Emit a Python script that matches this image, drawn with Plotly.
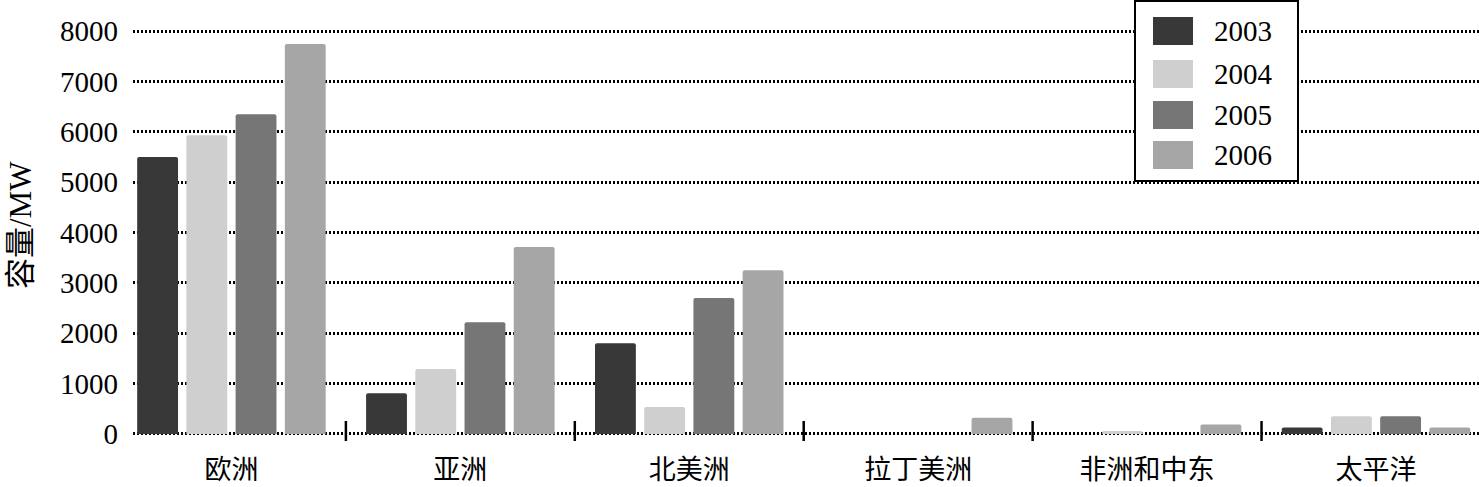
import plotly.graph_objects as go

regions = ["欧洲", "亚洲", "北美洲", "拉丁美洲", "非洲和中东", "太平洋"]
years = ["2003", "2004", "2005", "2006"]
v2003 = [5500, 810, 1800, 0, 0, 130]
v2004 = [5930, 1290, 535, 0, 60, 350]
v2005 = [6350, 2220, 2700, 0, 0, 350]
v2006 = [7740, 3710, 3250, 320, 190, 130]
series = [v2003, v2004, v2005, v2006]
colors = ["#383838", "#cfcfcf", "#767676", "#a6a6a6"]
yticks = [0, 1000, 2000, 3000, 4000, 5000, 6000, 7000, 8000]

W, H = 1479, 487
ML, MR, MT, MB = 133, 0, 29, 51
PW, PH = W - ML - MR, H - MT - MB
Y0, Y1 = -40, 8040

def px(xp):
    return (xp - ML) / PW

def py(yp):
    return (H - MB - yp) / PH

serif = "Liberation Serif, Noto Sans CJK SC"

fig = go.Figure()
for name, vals, col in zip(years, series, colors):
    fig.add_trace(go.Bar(x=regions, y=vals, name=name, showlegend=False,
                         marker=dict(color=col, line=dict(width=0))))

# category boundary ticks crossing the axis
for i in range(len(regions) - 1):
    fig.add_shape(type="line", xref="x", yref="paper", x0=i + 0.5, x1=i + 0.5, y0=py(441), y1=py(421),
                  line=dict(color="black", width=2.5))

# legend drawn as a box with swatches
annotations = []
fig.add_shape(type="rect", xref="paper", yref="paper", x0=px(1135), x1=px(1298), y0=py(181), y1=py(1),
              line=dict(color="black", width=2), fillcolor="white", layer="above")
row_centers = [31, 74, 115, 155]
for name, col, yc in zip(years, colors, row_centers):
    fig.add_shape(type="rect", xref="paper", yref="paper", x0=px(1153), x1=px(1193),
                  y0=py(yc + 14), y1=py(yc - 14), line=dict(width=0), fillcolor=col, layer="above")
    annotations.append(dict(text=name, xref="paper", yref="paper", x=px(1212), y=py(yc),
                            xanchor="left", yanchor="middle", showarrow=False,
                            font=dict(family=serif, size=29, color="black")))

annotations.append(dict(
    text="容量/MW", xref="paper", yref="paper", x=px(20), y=py(225),
    xanchor="center", yanchor="middle", textangle=-90, showarrow=False,
    font=dict(family=serif, size=31, color="black"),
))

fig.update_layout(
    width=W, height=H,
    margin=dict(l=ML, r=MR, t=MT, b=MB, autoexpand=False),
    paper_bgcolor="white", plot_bgcolor="white",
    barmode="group", bargap=0.14, bargroupgap=0.17,
    barcornerradius=2,
    font=dict(family=serif, color="black", size=28),
    showlegend=False,
    xaxis=dict(
        range=[-0.43, 5.45], showgrid=False, zeroline=False, showline=False,
        ticks="", tickfont=dict(family="Noto Sans CJK SC", size=27, color="black"),
        ticklabelstandoff=15, automargin=False,
    ),
    yaxis=dict(
        range=[Y0, Y1], tickvals=yticks, showgrid=True, gridcolor="black", gridwidth=2.5,
        griddash="2px,2px", zeroline=False, showline=False, ticks="",
        tickfont=dict(family=serif, size=29, color="black"), ticklabelstandoff=14,
        automargin=False,
    ),
    annotations=annotations,
)

fig.write_html("out.html", config={"displayModeBar": False},
               post_script="document.body.style.margin='0';")
